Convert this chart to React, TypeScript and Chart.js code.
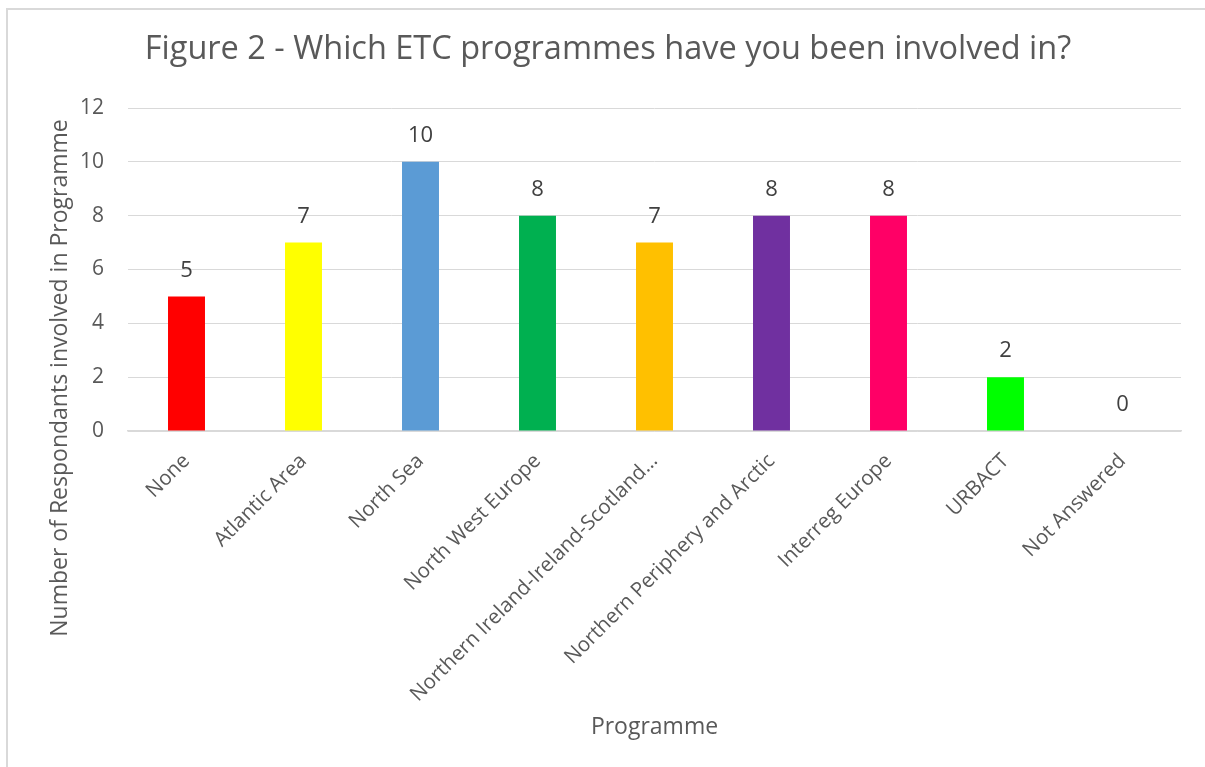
import React, { useEffect, useRef } from "react";
import { Chart, registerables } from "chart.js";

Chart.register(...registerables);

const TITLE = "Figure 2 - Which ETC programmes have you been involved in?";
const Y_TITLE = "Number of Respondants involved in Programme";
const X_TITLE = "Programme";

const categories = [
  "None",
  "Atlantic Area",
  "North Sea",
  "North West Europe",
  "Northern Ireland-Ireland-Scotland…",
  "Northern Periphery and Arctic",
  "Interreg Europe",
  "URBACT",
  "Not Answered",
];

const values = [5, 7, 10, 8, 7, 8, 8, 2, 0];

const barColors = [
  "#FF0000",
  "#FFFF00",
  "#5B9BD5",
  "#00B050",
  "#FFC000",
  "#7030A0",
  "#FF0066",
  "#00FF00",
  "#00FF00",
];

const yTicks = [0, 2, 4, 6, 8, 10, 12];

const FONT = "'Open Sans', sans-serif";
const TEXT = "#595959";

const valueLabels = {
  id: "valueLabels",
  afterDatasetsDraw(chart: any) {
    const ctx = chart.ctx;
    const meta = chart.getDatasetMeta(0);
    ctx.save();
    ctx.font = `22px ${FONT}`;
    ctx.fillStyle = "#404040";
    ctx.textAlign = "center";
    ctx.textBaseline = "middle";
    meta.data.forEach((bar: any, i: number) => {
      ctx.fillText(String(values[i]), bar.x, bar.y - 26);
    });
    ctx.restore();
  },
};

const yAxisTitle = {
  id: "yAxisTitle",
  afterDraw(chart: any) {
    const ctx = chart.ctx;
    const area = chart.chartArea;
    ctx.save();
    ctx.font = `23px ${FONT}`;
    ctx.fillStyle = TEXT;
    ctx.textAlign = "center";
    ctx.textBaseline = "middle";
    ctx.translate(60, area.top + 270);
    ctx.rotate(-Math.PI / 2);
    ctx.fillText(Y_TITLE, 0, 0);
    ctx.restore();
  },
};

export default function App() {
  const ref = useRef<HTMLCanvasElement>(null);

  useEffect(() => {
    if (!ref.current) return;
    const chart = new Chart(ref.current, {
      type: "bar",
      data: {
        labels: categories,
        datasets: [
          {
            data: values,
            backgroundColor: barColors,
            borderWidth: 0,
            categoryPercentage: 1,
            barPercentage: 0.316,
          },
        ],
      },
      plugins: [valueLabels, yAxisTitle],
      options: {
        animation: false,
        responsive: false,
        maintainAspectRatio: false,
        layout: { padding: { left: 35, right: 24, top: 0, bottom: 0 } },
        plugins: {
          legend: { display: false },
          tooltip: { enabled: false },
          title: {
            display: true,
            text: TITLE,
            color: TEXT,
            font: { family: FONT, size: 32.5, weight: "normal" },
            padding: { top: 30.5, bottom: 38.5 },
          },
        },
        scales: {
          x: {
            afterFit: (s: any) => {
              s.height = 336;
            },
            grid: { display: false, drawTicks: false },
            border: { display: true, color: "#d9d9d9", width: 1.5 },
            ticks: {
              autoSkip: false,
              maxRotation: 45,
              minRotation: 45,
              padding: 18,
              color: TEXT,
              font: { family: FONT, size: 20.5 },
            },
            title: {
              display: true,
              text: X_TITLE,
              color: TEXT,
              font: { family: FONT, size: 23 },
              padding: { top: 0, bottom: 26 },
            },
          },
          y: {
            min: 0,
            max: 12,
            afterFit: (s: any) => {
              s.width = 93;
            },
            afterBuildTicks: (s: any) => {
              s.ticks = yTicks.map((v) => ({ value: v }));
            },
            grid: { color: "#d9d9d9", drawTicks: false },
            border: { display: false },
            ticks: {
              padding: 24,
              color: TEXT,
              font: { family: FONT, size: 21 },
            },
            title: { display: false },
          },
        },
      },
    });
    return () => chart.destroy();
  }, []);

  return (
    <div
      style={{
        position: "fixed",
        left: 0,
        top: 0,
        width: 1205,
        height: 767,
        overflow: "hidden",
        background: "#fff",
      }}
    >
      <div
        style={{
          position: "absolute",
          left: 6,
          top: 8,
          width: 1220,
          height: 780,
          border: "2px solid #d9d9d9",
          boxSizing: "border-box",
        }}
      />
      <canvas
        ref={ref}
        width={1205}
        height={767}
        style={{ position: "absolute", left: 0, top: 0 }}
      />
    </div>
  );
}
